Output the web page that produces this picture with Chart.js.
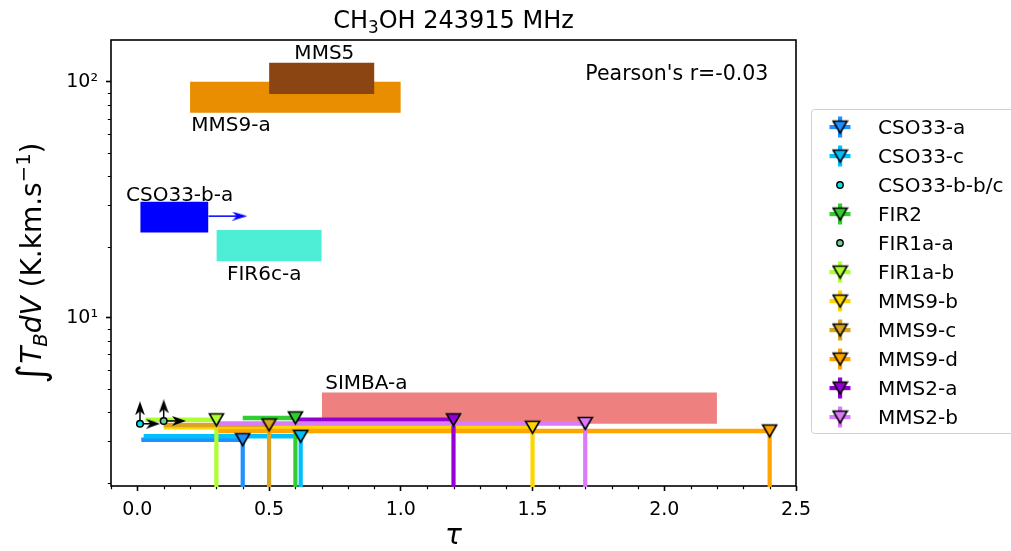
<!DOCTYPE html>
<html><head><meta charset="utf-8">
<script src="https://cdn.jsdelivr.net/npm/chart.js@4.4.1/dist/chart.umd.min.js"></script>
<style>html,body{margin:0;padding:0;background:#fff;overflow:hidden}#wrap{position:relative;width:1011px;height:551px}</style>
</head><body><div id="wrap"><canvas id="chart" width="1011" height="551"></canvas></div>
<script>
// ---------- text ----------
const titleParts = ['CH', '3', 'OH 243915 MHz'];
const xAxisLabel = 'τ';
const pearsonText = "Pearson's r=-0.03";

// ---------- axes ----------
const xMin = -0.1, xMax = 2.5;
const yMin = 1.94, yMax = 150.6;
const xTickValues = [0, 0.5, 1.0, 1.5, 2.0, 2.5];
const xTickLabels = ['0.0', '0.5', '1.0', '1.5', '2.0', '2.5'];
const xMinorValues = [-0.1,0.1,0.2,0.3,0.4,0.6,0.7,0.8,0.9,1.1,1.2,1.3,1.4,1.6,1.7,1.8,1.9,2.1,2.2,2.3,2.4];
const yTickValues = [10, 100];
const yTickLabels = ['10¹', '10²'];
const yMinorValues = [2,3,4,5,6,7,8,9,20,30,40,50,60,70,80,90];

// ---------- sources (errorbar limits) ----------
const sourceNames  = ['CSO33-a','CSO33-c','CSO33-b-b/c','FIR2','FIR1a-a','FIR1a-b','MMS9-b','MMS9-c','MMS9-d','MMS2-a','MMS2-b'];
const sourceColors = ['#1E90FF','#00BFFF','#00E5EE','#32CD32','#6FCF97','#ADFF2F','#FFD700','#DAA520','#FFA500','#9400D3','#DA7BFA'];
const sourceKinds  = ['limit','limit','circle','limit','circle','limit','limit','limit','limit','limit','limit'];
const sourceTau    = [0.40, 0.62, 0.01, 0.60, 0.10, 0.30, 1.50, 0.50, 2.40, 1.20, 1.70];
const sourceFlux   = [3.05, 3.15, 3.56, 3.77, 3.66, 3.70, 3.44, 3.52, 3.32, 3.70, 3.57];
const sourceTauLow = [0.015, 0.024, null, 0.40, null, 0.03, 0.10, 0.10, 0.307, 0.60, 0.307];
const limitFloor = 1.0;
// arrows on the circle points (lower limits)
const arrowUpFlux   = [null, null, 4.14, null, 4.22, null, null, null, null, null, null];
const arrowRightTau = [null, null, 0.06, null, 0.158, null, null, null, null, null, null];

// ---------- boxes ----------
const boxNames    = ['MMS9-a','MMS5','CSO33-b-a','FIR6c-a','SIMBA-a'];
const boxColors   = ['#E88E00','#8B4513','#0000FF','#4DEDD6','#EE8080'];
const boxTauMin   = [0.20, 0.50, 0.011, 0.30, 0.70];
const boxTauMax   = [1.00, 0.90, 0.27, 0.70, 2.20];
const boxFluxMin  = [74.1, 89.0, 23.0, 17.4, 3.56];
const boxFluxMax  = [100.3, 120.7, 31.1, 23.6, 4.83];
const boxLabelTau = [0.205, 0.596, -0.043, 0.340, 0.713];
const boxLabelFlux= [66.4, 134.0, 33.7, 15.6, 5.36];
// CSO33-b-a arrow
const blueArrowTau  = [0.27, 0.389];
const blueArrowFlux = [27.0, 27.0];

// ---------- marker images ----------
function triImage(color){
  const c = document.createElement('canvas'); c.width = 17; c.height = 17;
  const g = c.getContext('2d');
  g.beginPath(); g.moveTo(1.5, 2.5); g.lineTo(15.5, 2.5); g.lineTo(8.5, 14.5); g.closePath();
  g.fillStyle = color; g.fill(); g.lineWidth = 1.6; g.strokeStyle = '#000'; g.lineJoin = 'miter'; g.stroke();
  return c;
}
function headImage(color, w, h){
  const c = document.createElement('canvas'); c.width = w; c.height = h;
  const g = c.getContext('2d');
  g.beginPath(); g.moveTo(w/2, 0); g.lineTo(w, h); g.lineTo(w/2, h*0.72); g.lineTo(0, h); g.closePath();
  g.fillStyle = color; g.fill();
  return c;
}
function legendHandle(color, kind){
  const c = document.createElement('canvas'); c.width = 26; c.height = 26;
  const g = c.getContext('2d');
  if (kind === 'limit'){
    g.fillStyle = color;
    g.fillRect(2.5, 11, 21, 4.2);
    g.fillRect(11, 2.5, 4.2, 21);
    g.drawImage(triImage(color), 4.6, 4.6);
  } else {
    g.beginPath(); g.arc(13, 13, 3.2, 0, Math.PI*2);
    g.fillStyle = color; g.fill(); g.lineWidth = 1.4; g.strokeStyle = '#000'; g.stroke();
  }
  return c;
}

// ---------- datasets ----------
const datasets = [];
for (let i = 0; i < boxNames.length; i++){
  datasets.push({
    data: [{x: boxTauMin[i], y: boxFluxMax[i]}, {x: boxTauMax[i], y: boxFluxMax[i]}],
    fill: {value: boxFluxMin[i]}, backgroundColor: boxColors[i],
    borderColor: 'rgba(0,0,0,0)', borderWidth: 0, pointRadius: 0
  });
}
datasets.push({
  data: blueArrowTau.map((t, k) => ({x: t, y: blueArrowFlux[k]})),
  borderColor: '#0000FF', borderWidth: 1.5, pointRadius: [0, 8],
  pointStyle: [false, headImage('#0000FF', 9, 15)], rotation: 90
});
for (let i = 0; i < sourceNames.length; i++){
  if (sourceKinds[i] !== 'limit') continue;
  datasets.push({
    data: [{x: sourceTauLow[i], y: sourceFlux[i]}, {x: sourceTau[i], y: sourceFlux[i]}],
    borderColor: sourceColors[i], borderWidth: 4.5, pointRadius: 0, borderCapStyle: 'butt'
  });
  datasets.push({
    data: [{x: sourceTau[i], y: sourceFlux[i]}, {x: sourceTau[i], y: limitFloor}],
    borderColor: sourceColors[i], borderWidth: 4.2, pointRadius: 0, borderCapStyle: 'butt', clip: 1
  });
}
for (let i = 0; i < sourceNames.length; i++){
  if (arrowUpFlux[i] !== null){
    datasets.push({
      data: [{x: sourceTau[i], y: sourceFlux[i]}, {x: sourceTau[i], y: arrowUpFlux[i]}],
      borderColor: '#000', borderWidth: 1.5, pointRadius: [0, 8],
      pointStyle: [false, headImage('#000', 10, 14)], rotation: 0
    });
    datasets.push({
      data: [{x: sourceTau[i], y: sourceFlux[i]}, {x: arrowRightTau[i], y: sourceFlux[i]}],
      borderColor: '#000', borderWidth: 1.5, pointRadius: [0, 8],
      pointStyle: [false, headImage('#000', 10, 14)], rotation: 90
    });
  }
}
for (let i = 0; i < sourceNames.length; i++){
  const isLimit = sourceKinds[i] === 'limit';
  datasets.push({
    data: [{x: sourceTau[i], y: sourceFlux[i]}], showLine: false,
    pointStyle: isLimit ? triImage(sourceColors[i]) : 'circle',
    pointRadius: isLimit ? 8 : 3.3,
    backgroundColor: sourceColors[i], borderColor: '#000', borderWidth: 1.5
  });
}
datasets.forEach((d, i) => { d.order = datasets.length - i; d.tension = 0; d.pointHoverRadius = d.pointRadius; });

// ---------- plugin for frame, minor ticks, texts, legend ----------
const FONT = '"DejaVu Sans"';
const handles = sourceNames.map((n, i) => legendHandle(sourceColors[i], sourceKinds[i]));
const deco = {
  id: 'deco',
  beforeDatasetsDraw(chart){
    const {ctx, chartArea: a} = chart;
    ctx.save();
    ctx.strokeStyle = '#000'; ctx.lineWidth = 1.6;
    ctx.strokeRect(a.left, a.top, a.right - a.left, a.bottom - a.top);
    const xs = chart.scales.x, ys = chart.scales.y;
    ctx.lineWidth = 1.2;
    ctx.beginPath();
    xMinorValues.forEach(v => { const p = Math.round(xs.getPixelForValue(v)) + 0.5; ctx.moveTo(p, a.bottom); ctx.lineTo(p, a.bottom + 3.2); });
    yMinorValues.forEach(v => { const p = Math.round(ys.getPixelForValue(v)) + 0.5; ctx.moveTo(a.left, p); ctx.lineTo(a.left - 3.2, p); });
    ctx.stroke();
    ctx.restore();
  },
  afterDraw(chart){
    const {ctx, chartArea: a} = chart;
    const xs = chart.scales.x, ys = chart.scales.y;
    ctx.save();
    ctx.fillStyle = '#000';
    ctx.textBaseline = 'alphabetic';
    // title
    const tf = 24;
    const segs = [[titleParts[0], tf, 0], [titleParts[1], tf*0.7, tf*0.22], [titleParts[2], tf, 0]];
    let tw = 0; segs.forEach(s => { ctx.font = `${s[1]}px ${FONT}`; s.push(ctx.measureText(s[0]).width); tw += s[3]; });
    let tx = (a.left + a.right)/2 - tw/2;
    segs.forEach(s => { ctx.font = `${s[1]}px ${FONT}`; ctx.fillText(s[0], tx, 28 + s[2]); tx += s[3]; });
    // x label
    ctx.font = `italic 28px ${FONT}`; ctx.textAlign = 'center';
    ctx.fillText(xAxisLabel, (a.left + a.right)/2, 544);
    ctx.textAlign = 'left';
    // y label
    const b = 28;
    const ysegs = [
      ['∫', `${b*1.35}px ${FONT}`, b*0.1],
      ['T', `italic ${b}px ${FONT}`, 0],
      ['B', `italic ${b*0.7}px ${FONT}`, b*0.2],
      ['dV', `italic ${b}px ${FONT}`, 0],
      [' (K.km.s', `${b}px ${FONT}`, 0],
      ['−1', `${b*0.7}px ${FONT}`, -b*0.38],
      [')', `${b}px ${FONT}`, 0]
    ];
    let yw = 0; ysegs.forEach(s => { ctx.font = s[1]; s.push(ctx.measureText(s[0]).width); yw += s[3]; });
    ctx.save(); ctx.translate(41, (a.top + a.bottom)/2); ctx.rotate(-Math.PI/2);
    let yx = -yw/2;
    ysegs.forEach(s => { ctx.font = s[1]; ctx.fillText(s[0], yx, s[2]); yx += s[3]; });
    ctx.restore();
    // box labels
    ctx.font = `20px ${FONT}`;
    boxNames.forEach((n, i) => {
      ctx.fillText(n, xs.getPixelForValue(boxLabelTau[i]), ys.getPixelForValue(boxLabelFlux[i]) + 7.3);
    });
    // pearson
    ctx.font = `20.5px ${FONT}`; ctx.textAlign = 'center';
    ctx.fillText(pearsonText, a.left + 0.826*(a.right - a.left), a.top + 0.074*(a.bottom - a.top) + 7.3);
    ctx.textAlign = 'left';
    // legend
    const L = {left: 811.5, top: 109.5, right: 1020, bottom: 433.5};
    ctx.beginPath();
    if (ctx.roundRect) ctx.roundRect(L.left, L.top, L.right - L.left, L.bottom - L.top, 3);
    else ctx.rect(L.left, L.top, L.right - L.left, L.bottom - L.top);
    ctx.fillStyle = '#fff'; ctx.fill();
    ctx.strokeStyle = '#d0d0d0'; ctx.lineWidth = 1; ctx.stroke();
    ctx.fillStyle = '#000'; ctx.font = `20px ${FONT}`;
    sourceNames.forEach((n, i) => {
      const cy = 127 + i*29;
      ctx.drawImage(handles[i], 840 - 13, cy - 13);
      ctx.fillText(n, 878, cy + 7.3);
    });
    ctx.restore();
  }
};

new Chart(document.getElementById('chart'), {
  type: 'line',
  data: {datasets},
  options: {
    responsive: false, animation: false, devicePixelRatio: 1,
    layout: {padding: {left: 0, right: 215, top: 40, bottom: 0}},
    plugins: {legend: {display: false}, tooltip: {enabled: false}, title: {display: false}},
    elements: {line: {tension: 0}},
    scales: {
      x: {
        type: 'linear', min: xMin, max: xMax,
        afterBuildTicks(s){ s.ticks = xTickValues.map(v => ({value: v})); },
        afterFit(s){ s.height = 65; },
        ticks: {callback: (v, i) => xTickLabels[i], font: {family: 'DejaVu Sans', size: 19}, color: '#000', padding: 8, maxRotation: 0, autoSkip: false},
        grid: {drawOnChartArea: false, drawTicks: true, tickLength: 5, tickWidth: 1.6, tickColor: '#000'},
        border: {display: false}
      },
      y: {
        type: 'logarithmic', min: yMin, max: yMax,
        afterBuildTicks(s){ s.ticks = yTickValues.map(v => ({value: v})); },
        afterFit(s){ s.width = 111; },
        ticks: {callback: (v, i) => yTickLabels[i], font: {family: 'DejaVu Sans', size: 19}, color: '#000', padding: 8, autoSkip: false},
        grid: {drawOnChartArea: false, drawTicks: true, tickLength: 5, tickWidth: 1.6, tickColor: '#000'},
        border: {display: false}
      }
    }
  },
  plugins: [deco]
});
</script>
</body></html>
